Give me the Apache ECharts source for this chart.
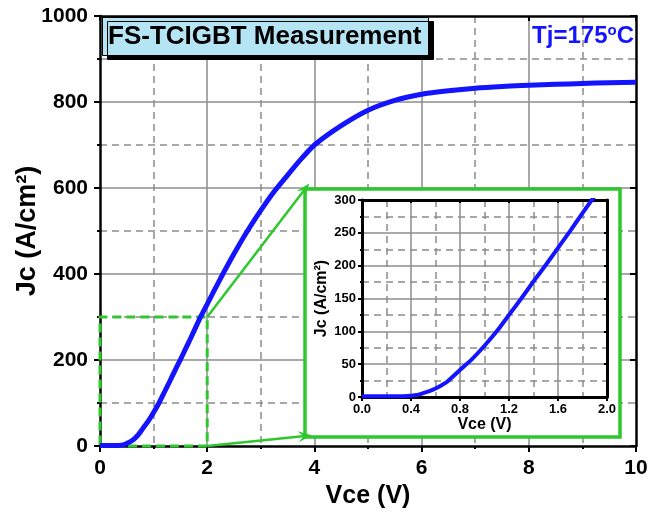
<!DOCTYPE html>
<html>
<head>
<meta charset="utf-8">
<script src="https://cdn.jsdelivr.net/npm/echarts@6/dist/echarts.min.js"></script>
<style>html,body{margin:0;padding:0;background:#fff}#c{width:648px;height:512px}</style>
</head>
<body>
<div id="c"></div>
<script>
// ---- data ----
var vce = [0,0.1,0.2,0.3,0.4,0.45,0.5,0.55,0.6,0.65,0.7,0.8,0.9,1.0,1.1,1.2,1.3,1.4,1.5,1.6,1.7,1.8,1.9,2.0,2.25,2.5,2.75,3.0,3.25,3.5,3.75,4.0,4.5,5.0,5.5,6.0,6.5,7.0,7.5,8.0,8.5,9.0,9.5,10.0];
var jc  = [1,1,1,1,2,3,6,9,13,18,24,41,58,78,100,125,150,176,201,227,253,280,306,330,390,447,500,548,592,630,667,700,745,781,804,818,826,832,836,839,841,843,845,846];
var mainXTicks = [0,2,4,6,8,10];
var mainYTicks = [0,200,400,600,800,1000];
var insetXTicks = ['0.0','0.4','0.8','1.2','1.6','2.0'];
var insetYTicks = [0,50,100,150,200,250,300];
var zoomRegion = {x0:0, y0:0, x1:2, y1:300};
var titleText = 'FS-TCIGBT Measurement';
var tempText = ['Tj=175','o','C'];

var FONT = 'Liberation Sans, Arial, sans-serif';
var GREEN = '#2ec82e';
var BLUE = '#1414ff';
var GRID = '#8c8c8c';

var pts = vce.map(function(v,i){return [v, jc[i]];});

function merge(a,o){
  for (var k in o) {
    if (o[k] && typeof o[k]==='object' && !Array.isArray(o[k]) && typeof o[k]!=='function' && a[k] && typeof a[k]==='object') merge(a[k], o[k]);
    else a[k]=o[k];
  }
  return a;
}
function axisBase(o, lw){
  var a = {
    axisLine:{show:true, onZero:false, lineStyle:{color:'#000', width:lw}},
    axisTick:{show:true, inside:false, length:6, lineStyle:{color:'#000', width:2}},
    minorTick:{show:true, splitNumber:2, length:3, lineStyle:{color:'#000', width:2}},
    splitLine:{show:true, showMinLine:false, showMaxLine:false, lineStyle:{color:GRID, width:1.5}},
    minorSplitLine:{show:true, lineStyle:{color:GRID, width:1.5, type:[7,5]}},
    axisLabel:{color:'#000', fontWeight:'bold', fontFamily:FONT}
  };
  return merge(a,o);
}
function mirror(o, lw, tl){
  var a = {
    axisLine:{show:true, onZero:false, lineStyle:{color:'#000', width:lw}},
    axisTick:{show:true, inside:true, length:tl, lineStyle:{color:'#000', width:2}},
    minorTick:{show:false},
    splitLine:{show:false},
    axisLabel:{show:false}
  };
  return merge(a,o);
}
var arrowPath = 'path://M0,20 L10,0 L20,20 L10,12 Z';

var chart = echarts.init(document.getElementById('c'), null, {renderer:'canvas'});
var option = {
  animation:false,
  backgroundColor:'#fff',
  title:[{
    text:titleText, left:102, top:17,
    padding:[6,7,5,6],
    backgroundColor:'#b5e4f4', borderColor:'#000', borderWidth:1,
    shadowColor:'#000', shadowOffsetX:5, shadowOffsetY:4, shadowBlur:0,
    textStyle:{fontSize:26, fontWeight:'bold', color:'#000', fontFamily:FONT, lineHeight:28}
  },{
    text:'{a|'+tempText[0]+'}{b|'+tempText[1]+'}{a|'+tempText[2]+'}', right:14, top:23, padding:0,
    textStyle:{rich:{
      a:{fontSize:24, fontWeight:'bold', color:BLUE, fontFamily:FONT, lineHeight:26},
      b:{fontSize:15, fontWeight:'bold', color:BLUE, fontFamily:FONT, lineHeight:15, verticalAlign:'top'}
    }}
  }],
  grid:[
    {left:100, right:12, top:16, bottom:66, outerBoundsMode:'none'},
    {left:362, right:41, top:200, bottom:115, outerBoundsMode:'none'}
  ],
  xAxis:[
    axisBase({gridIndex:0, type:'value', min:mainXTicks[0], max:mainXTicks[mainXTicks.length-1], interval:2,
      name:'Vce (V)', nameLocation:'middle', nameGap:38,
      nameTextStyle:{fontSize:25, fontWeight:'bold', color:'#000', fontFamily:FONT},
      axisLabel:{fontSize:21, margin:12}}, 2.5),
    axisBase({gridIndex:1, type:'value', min:0, max:2, interval:0.4, z:2,
      name:'Vce (V)', nameLocation:'middle', nameGap:19,
      nameTextStyle:{fontSize:16, fontWeight:'bold', color:'#000', fontFamily:FONT},
      axisTick:{length:4}, minorTick:{length:2},
      axisLabel:{fontSize:13, margin:6, formatter:function(v){return insetXTicks[Math.round(v/0.4)];}}}, 3),
    mirror({gridIndex:0, type:'value', position:'top', min:0, max:10, interval:2}, 2.5, 5),
    mirror({gridIndex:1, type:'value', position:'top', min:0, max:2, interval:0.4, z:2}, 3, 3)
  ],
  yAxis:[
    axisBase({gridIndex:0, type:'value', min:mainYTicks[0], max:mainYTicks[mainYTicks.length-1], interval:200,
      name:'Jc (A/cm²)', nameLocation:'middle', nameGap:59, nameMoveOverlap:false,
      nameTextStyle:{fontSize:27, fontWeight:'bold', color:'#000', fontFamily:FONT},
      axisLabel:{fontSize:21, margin:12, formatter:function(v){return String(v);}}}, 2.5),
    axisBase({gridIndex:1, type:'value', min:insetYTicks[0], max:insetYTicks[insetYTicks.length-1], interval:50, z:2,
      name:'Jc (A/cm²)', nameLocation:'middle', nameGap:32, nameMoveOverlap:false,
      nameTextStyle:{fontSize:16, fontWeight:'bold', color:'#000', fontFamily:FONT},
      axisTick:{length:4}, minorTick:{length:2},
      axisLabel:{fontSize:13, margin:6, formatter:function(v){return String(v);}}}, 3),
    mirror({gridIndex:0, type:'value', position:'right', min:0, max:1000, interval:200}, 2.5, 6),
    mirror({gridIndex:1, type:'value', position:'right', min:0, max:300, interval:50, z:2}, 3, 3)
  ],
  graphic:{elements:[{
    type:'rect', z:1, silent:true,
    shape:{x:305, y:189, width:315, height:248},
    style:{fill:'#fff', stroke:GREEN, lineWidth:3.5}
  }]},
  series:[{
    type:'line', xAxisIndex:0, yAxisIndex:0, data:pts, showSymbol:false, smooth:0.2, z:3,
    lineStyle:{color:BLUE, width:5}, silent:true,
    markArea:{silent:true, itemStyle:{color:'rgba(0,0,0,0)', borderColor:GREEN, borderWidth:3, borderType:[9,5]},
      data:[[{coord:[zoomRegion.x0, zoomRegion.y0]},{coord:[zoomRegion.x1, zoomRegion.y1]}]]},
    markLine:{silent:true, symbol:['none',arrowPath], symbolSize:[11,14], label:{show:false},
      lineStyle:{color:GREEN, width:2.5, type:'solid'}, itemStyle:{color:GREEN},
      data:[
        [{coord:[zoomRegion.x1, zoomRegion.y1]},{x:305, y:189}],
        [{coord:[zoomRegion.x1, zoomRegion.y0]},{x:305, y:436}]
      ]}
  },{
    type:'line', xAxisIndex:1, yAxisIndex:1, data:pts, showSymbol:false, smooth:0.2, z:4,
    lineStyle:{color:BLUE, width:4}, silent:true, clip:true
  }]
};
chart.setOption(option);
</script>
</body>
</html>
